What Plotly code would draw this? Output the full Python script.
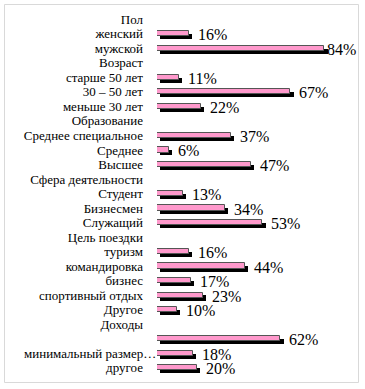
import plotly.graph_objects as go

labels = ["Пол", "женский", "мужской", "Возраст", "старше 50 лет", "30 – 50 лет",
          "меньше 30 лет", "Образование", "Среднее специальное", "Среднее", "Высшее",
          "Сфера деятельности", "Студент", "Бизнесмен", "Служащий", "Цель поездки",
          "туризм", "командировка", "бизнес", "спортивный отдых", "Другое", "Доходы",
          "", "минимальный размер…", "другое"]
values = [None, 16, 84, None, 11, 67, 22, None, 37, 6, 47, None, 13, 34, 53, None,
          16, 44, 17, 23, 10, None, 62, 18, 20]
long_label = "минимальный размер…"  # drawn overflowing into the plot edge, as in the source

pos = list(range(len(labels)))
bar_pos = [p for p, v in zip(pos, values) if v is not None]
bar_vals = [v for v in values if v is not None]

FONT = "'Liberation Serif', 'Times New Roman', 'DejaVu Serif', serif"

W, H = 365, 389
L, R, T, B = 157, 9, 12, 14
pw, ph = W - L - R, H - T - B
XMAX = 100
def px(x): return (x - L) / pw
def py(y): return (H - B - y) / ph

fig = go.Figure()
# shadow
fig.add_trace(go.Bar(
    y=bar_pos, x=bar_vals, base=1.75, orientation="h",
    width=0.36, offset=0.02,
    marker=dict(color="#000000", line=dict(width=0)),
    hoverinfo="skip", showlegend=False))
# main bar
fig.add_trace(go.Bar(
    y=bar_pos, x=bar_vals, orientation="h",
    width=0.36, offset=-0.18,
    marker=dict(color="#FF99CC", line=dict(color="#555555", width=1)),
    showlegend=False))

for p, v in zip(bar_pos, bar_vals):
    # keep label inside the frame (source squeezes the largest label)
    end_px = L + v / XMAX * pw
    shift = min(8, 355 - 29 - end_px)
    fig.add_annotation(x=v, y=p, xref="x", yref="y", text=f"{v}%", showarrow=False,
                       xanchor="left", yanchor="middle", xshift=shift, yshift=-1, borderpad=0,
                       font=dict(family=FONT, size=16, color="#000000"))

tick_text = ["" if t == long_label else t for t in labels]
lp = labels.index(long_label)
fig.add_annotation(x=px(157), xref="paper", y=lp, yref="y", text=long_label,
                   showarrow=False, xanchor="right", yanchor="middle", borderpad=0,
                   font=dict(family=FONT, size=13, color="#000000"))

fig.add_shape(type="rect", xref="paper", yref="paper",
              x0=px(4.5), x1=px(358.5), y0=py(382.5), y1=py(4.5),
              line=dict(color="#d9d9d9", width=1), layer="below")

fig.update_layout(
    width=W, height=H, margin=dict(l=L, r=R, t=T, b=B, autoexpand=False),
    paper_bgcolor="white", plot_bgcolor="white",
    barmode="overlay", bargap=0,
    font=dict(family=FONT),
    xaxis=dict(range=[0, XMAX], visible=False, fixedrange=True, automargin=False),
    yaxis=dict(range=[len(labels) - 0.5, -0.5], tickvals=pos, ticktext=tick_text,
               showgrid=False, zeroline=False, showline=False, ticks="",
               ticklabelstandoff=13, fixedrange=True, automargin=False,
               tickfont=dict(family=FONT, size=13, color="#000000")),
)
fig.write_html("out.html", config={"displayModeBar": False},
               post_script="document.body.style.margin='0';document.body.style.overflow='hidden';")
